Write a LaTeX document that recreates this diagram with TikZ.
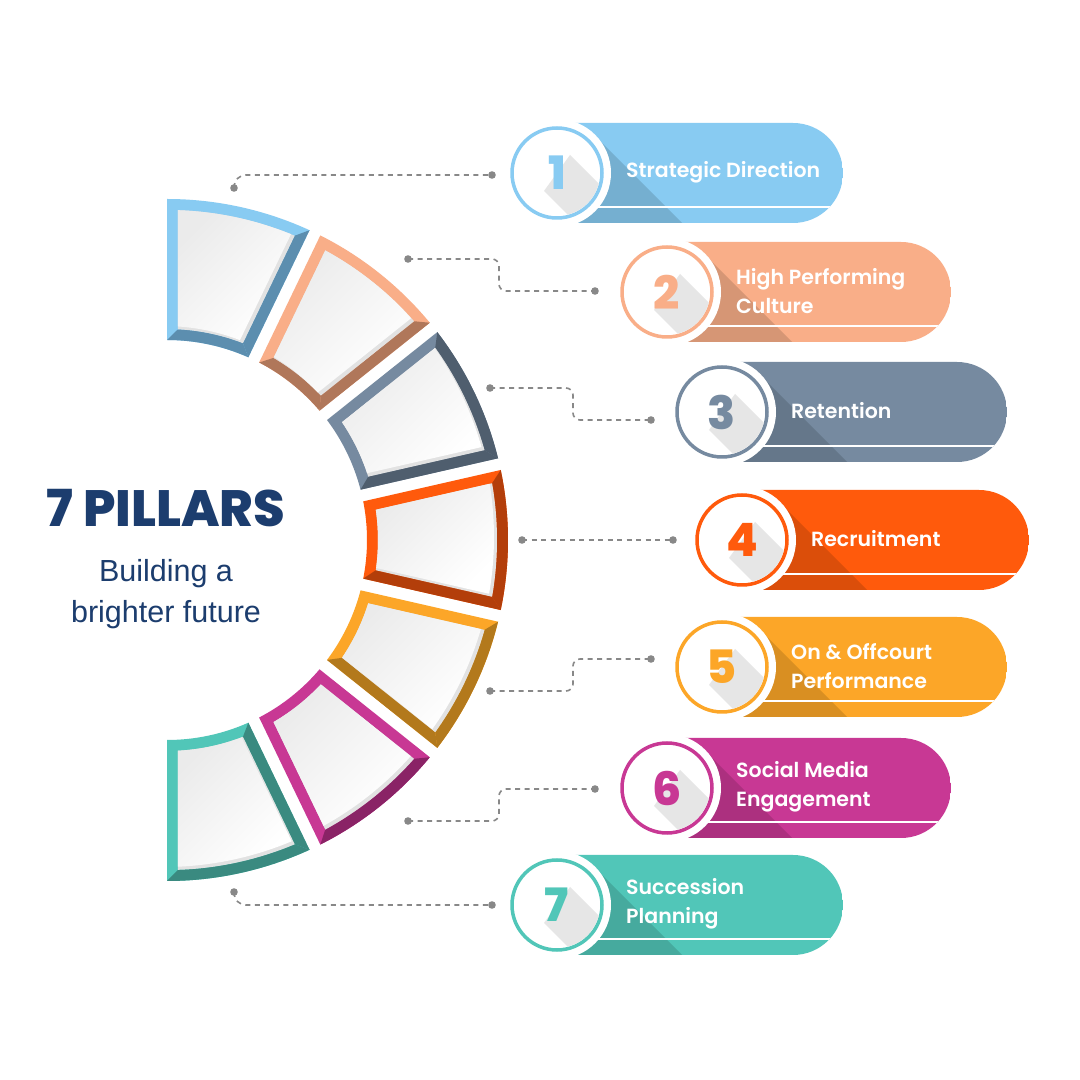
\documentclass[tikz,border=0pt]{standalone}
\usepackage{fontspec}
\setmainfont{Liberation Sans}
\newfontfamily\popfont{Poppins}
\IfFontExistsTF{Poppins SemiBold}{\newfontfamily\labfont{Poppins SemiBold}}{\newfontfamily\labfont{Poppins}[UprightFont=*-Bold]}
\IfFontExistsTF{Poppins ExtraBold}{\newfontfamily\headfont{Poppins ExtraBold}}{\newfontfamily\headfont{Poppins}[UprightFont=*-Bold]}
\usetikzlibrary{calc}

\definecolor{navy}{HTML}{1C3D6E}
\definecolor{linegray}{HTML}{888888}
\definecolor{bevel}{HTML}{E2E2E2}
\definecolor{numshadow}{HTML}{E6E6E6}
\definecolor{pa}{HTML}{88CBF2}\definecolor{pad}{HTML}{5C8EAF}
\definecolor{pb}{HTML}{F9AE88}\definecolor{pbd}{HTML}{B0775A}
\definecolor{pc}{HTML}{768AA0}\definecolor{pcd}{HTML}{4F5E6E}
\definecolor{pd}{HTML}{FF5A0C}\definecolor{pdd}{HTML}{B33E0A}
\definecolor{pe}{HTML}{FCA628}\definecolor{ped}{HTML}{B3791C}
\definecolor{pf}{HTML}{C83894}\definecolor{pfd}{HTML}{8A2366}
\definecolor{pg}{HTML}{51C6B8}\definecolor{pgd}{HTML}{3A8A80}

% radii of the ring: outer, inner, and of the white inside
\def\Ro{341}\def\Ri{200}\def\Rwo{330}\def\Rwi{211}

% corner angles of one ring piece (frame and white inside), side offsets #1 and #2
\newcommand\setsect[2]{%
  \pgfmathsetmacro\sa{\tu-asin((#1)/\Ro)}\pgfmathsetmacro\sb{\tl+asin((#2)/\Ro)}%
  \pgfmathsetmacro\sc{\tu-asin((#1)/\Ri)}\pgfmathsetmacro\sd{\tl+asin((#2)/\Ri)}%
  \pgfmathsetmacro\ta{\tu-asin((#1+11)/\Rwo)}\pgfmathsetmacro\tb{\tl+asin((#2+11)/\Rwo)}%
  \pgfmathsetmacro\tc{\tu-asin((#1+11)/\Rwi)}\pgfmathsetmacro\td{\tl+asin((#2+11)/\Rwi)}}

\tikzset{
  frame path/.style={insert path={(\sa:\Ro) arc[start angle=\sa, end angle=\sb, radius=\Ro]
      -- (\sd:\Ri) arc[start angle=\sd, end angle=\sc, radius=\Ri] -- cycle}},
  inside path/.style={insert path={(\ta:\Rwo) arc[start angle=\ta, end angle=\tb, radius=\Rwo]
      -- (\td:\Rwi) arc[start angle=\td, end angle=\tc, radius=\Rwi] -- cycle}},
  strip out/.style={insert path={(\sa:\Ro) arc[start angle=\sa, end angle=\sb, radius=\Ro]
      -- (\tb:\Rwo) arc[start angle=\tb, end angle=\ta, radius=\Rwo] -- cycle}},
  strip cw/.style={insert path={(\sb:\Ro) -- (\sd:\Ri) -- (\td:\Rwi) -- (\tb:\Rwo) -- cycle}},
  strip in/.style={insert path={(\sd:\Ri) arc[start angle=\sd, end angle=\sc, radius=\Ri]
      -- (\tc:\Rwi) arc[start angle=\tc, end angle=\td, radius=\Rwi] -- cycle}},
  strip ccw/.style={insert path={(\sc:\Ri) -- (\sa:\Ro) -- (\ta:\Rwo) -- (\tc:\Rwi) -- cycle}},
  leader/.style={draw=linegray, line width=1.6pt, dash pattern=on 5pt off 4.5pt, rounded corners=7pt},
  pilltext/.style={anchor=west, text=white, align=left, inner sep=0pt,
      font=\labfont\fontsize{20.5}{29}\selectfont},
  numtext/.style={inner sep=0pt, font=\headfont\fontsize{46}{46}\selectfont}
}

\begin{document}
\begin{tikzpicture}[x=1pt,y=1pt]
\useasboundingbox (0,0) rectangle (1080,1080);
\fill[white] (0,0) rectangle (1080,1080);

% ring of seven pieces
\begin{scope}[shift={(167,540)}]
\foreach \i/\lc/\dc/\dk in {1/pa/pad/{cw,in},2/pb/pbd/{cw,in},3/pc/pcd/{out,cw},
    4/pd/pdd/{out,cw},5/pe/ped/{out,cw},6/pf/pfd/{out},7/pg/pgd/{out,ccw}}{
  \pgfmathsetmacro\tu{90-(\i-1)*180/7}
  \pgfmathsetmacro\tl{90-\i*180/7}
  \pgfmathsetmacro\du{\i>1 ? 6 : 0}
  \pgfmathsetmacro\dl{\i<7 ? 6 : 0}
  \setsect{\du}{\dl}
  \fill[\lc, frame path];
  \foreach \s in \dk {\fill[\dc, strip \s];}
  \fill[bevel, inside path];
  \begin{scope}
    \clip[inside path];
    \shade[top color=gray!16, bottom color=white, shading angle=45, shift={(-3,3)}, inside path];
  \end{scope}
}
\end{scope}

% title
\node[font=\headfont\fontsize{51}{51}\selectfont, text=navy] (title) at (166,572) {7 PILLARS};
\node[font=\fontsize{30.5}{41}\selectfont, text=navy, align=center] (sub) at (166,486) {Building a\\brighter future};

% pills
\foreach \n/\cx/\cy/\rx/\lc/\txt in {
    1/557/907/843/pa/{Strategic Direction},
    2/667/788/951/pb/{High Performing\\Culture},
    3/722/668/1007/pc/{Retention},
    4/742/540/1029/pd/{Recruitment},
    5/722/413/1007/pe/{On \& Offcourt\\Performance},
    6/667/292/951/pf/{Social Media\\Engagement},
    7/557/175/843/pg/{Succession\\Planning}}{
  \begin{scope}
    \clip (\cx,\cy-50) -- (\rx-50,\cy-50) arc[start angle=-90, end angle=90, radius=50]
      -- (\cx,\cy+50) -- cycle;
    \fill[\lc] (\cx,\cy-60) rectangle (\rx,\cy+60);
    \fill[\lc!86!black] (\cx+37.5,\cy+37.5) -- ++(200,-200) -- (\cx+162.5,\cy-237.5)
      -- (\cx-37.5,\cy-37.5) -- cycle;
    \draw[white, line width=2.5pt] (\cx,\cy-34) -- (\rx,\cy-34);
  \end{scope}
  \fill[white] (\cx,\cy) circle (54);
  \draw[\lc, line width=3.5pt] (\cx,\cy) circle (45);
  \begin{scope}
    \clip (\cx,\cy) circle (43);
    \fill[numshadow] (\cx+13,\cy+18) -- ++(100,-100) -- (\cx+87,\cy-118) -- (\cx-13,\cy-18) -- cycle;
  \end{scope}
  \node[numtext, text=\lc] (num\n) at (\cx,\cy) {\n};
  \node[pilltext] (lab\n) at (\cx+69,\cy+1) {\txt};
}

% dotted leaders
\coordinate (s1) at (234,892); \coordinate (p1) at (492,905);
\coordinate (s2) at (408,821); \coordinate (m2) at (499,805); \coordinate (p2) at (595,789);
\coordinate (s3) at (490,692); \coordinate (m3) at (573,676); \coordinate (p3) at (651,660);
\coordinate (s4) at (522,540); \coordinate (p4) at (673,540);
\coordinate (s5) at (490,389); \coordinate (m5) at (573,405); \coordinate (p5) at (651,421);
\coordinate (s6) at (408,259); \coordinate (m6) at (499,275); \coordinate (p6) at (595,291);
\coordinate (s7) at (234,188); \coordinate (p7) at (492,175);

\draw[leader, rounded corners=12pt] (s1) |- (p1);
\draw[leader] (s2) -| (m2) |- (p2);
\draw[leader] (s3) -| (m3) |- (p3);
\draw[leader] (s4) -- (p4);
\draw[leader] (s5) -| (m5) |- (p5);
\draw[leader] (s6) -| (m6) |- (p6);
\draw[leader, rounded corners=12pt] (s7) |- (p7);
\foreach \k in {1,...,7}{
  \fill[linegray] (s\k) circle (3.8);
  \fill[linegray] (p\k) circle (3.8);
}

\end{tikzpicture}
\end{document}
